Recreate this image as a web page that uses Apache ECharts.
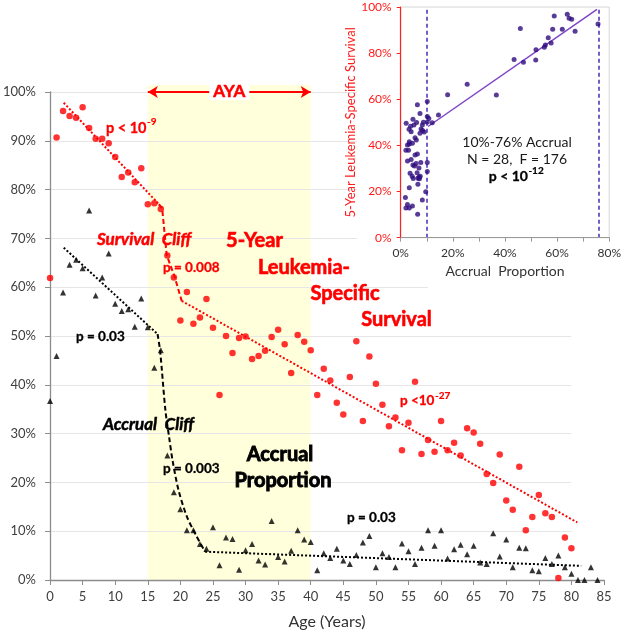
<!DOCTYPE html>
<html><head><meta charset="utf-8">
<script src="https://cdn.jsdelivr.net/npm/echarts@6/dist/echarts.min.js"></script>
<style>html,body{margin:0;padding:0;background:#fff}#c{width:624px;height:635px}</style>
</head><body><div id="c"></div>
<script>
// ---------------- DATA ----------------
const SURV_AGES = [0,1,2,3,4,5,6,7,8,9,10,11,12,13,14,15,16,17,18,19,20,21,22,23,24,25,26,27,28,29,30,31,32,33,34,35,36,37,38,39,40,41,42,43,44,45,46,47,48,49,50,51,52,53,54,55,56,57,58,59,60,61,62,63,64,65,66,67,68,69,70,71,72,73,74,75,76,77,78,79,80];
const SURVIVAL = [61.9,90.7,96.1,95.1,94.7,96.9,92.6,90.4,90.4,89.5,
  86.7,82.6,83.5,81.5,84.4,77.0,77.2,76.0,66.5,62.0,
  53.2,59.0,52.5,53.8,57.6,51.7,37.9,50.0,46.5,49.6,
  49.9,45.3,45.9,47.0,49.8,51.3,48.3,42.4,50.2,48.8,
  47.1,37.9,43.3,40.9,36.3,33.9,41.6,48.9,32.6,45.8,
  40.2,35.9,31.5,33.3,26.6,32.2,40.6,25.8,28.7,26.3,
  32.6,26.6,28.1,25.5,31.1,30.2,27.9,21.7,19.9,25.7,
  16.3,14.4,23.2,10.2,12.9,17.4,13.7,12.9,0.4,8.7,
  6.5];
const ACC_AGES = [0,1,2,3,4,5,6,7,8,9,10,11,12,13,14,15,16,17,18,19,20,21,22,23,24,25,26,27,28,29,30,31,32,33,34,35,36,37,38,39,40,41,42,43,44,45,46,47,48,49,50,51,52,53,54,55,56,57,58,59,60,61,62,63,64,65,66,67,68,69,70,71,72,73,74,75,76,77,78,79,80,81,82,83,84];
const ACCRUAL = [36.7,45.9,58.9,64.6,65.6,63.9,75.7,58.3,62.0,66.9,
  56.6,55.1,55.5,51.9,57.7,51.8,43.5,47.1,25.5,18.0,
  14.5,10.2,10.2,7.4,6.4,10.8,3.0,8.7,8.4,2.1,
  6.1,7.4,4.0,3.2,12.1,4.7,3.8,6.0,10.2,8.3,
  7.8,2.0,5.5,4.5,6.4,4.0,3.3,5.1,7.7,9.0,
  2.6,5.5,4.7,2.6,7.5,5.9,3.3,6.6,10.2,7.0,
  10.2,4.4,6.3,7.2,5.3,7.0,3.6,3.3,9.6,4.8,
  8.3,2.6,6.6,6.5,2.0,1.8,4.5,3.3,5.0,2.6,
  1.3,0,0,2.6,0];
// fitted trend segments [age, %]
const SURV_TREND_CHILD = [[2.1,97.8],[16.7,77.0]];
const SURV_TREND_CLIFF = [[16.7,77.0],[17.2,76.2],[17.9,66.6],[19.1,62.2],[20.2,57.2]];
const SURV_TREND_ADULT = [[20.2,57.2],[80.9,11.8]];
const ACC_TREND_CHILD = [[2.1,68.1],[16.5,50.4]];
const ACC_TREND_CLIFF = [[16.5,50.4],[16.9,46.8],[17.7,34.8],[18.3,29.0],[18.8,24.5],[19.7,18.5],[21.0,13.0],[22.5,8.9],[23.8,5.8]];
const ACC_TREND_ADULT = [[23.8,5.8],[81.5,2.9]];
const AYA_RANGE = [15, 40];
// inset: survival vs accrual, ages 0-77
const INSET_AGES = [0,1,2,3,4,5,6,7,8,9,10,11,12,13,14,15,16,17,18,19,20,21,22,23,24,25,26,27,28,29,30,31,32,33,34,35,36,37,38,39,40,41,42,43,44,45,46,47,48,49,50,51,52,53,54,55,56,57,58,59,60,61,62,63,64,65,66,67,68,69,70,71,72,73,74,75,76,77];
const INSET_TREND = [[10.5,48.2],[75.3,99.0]];
const INSET_CUTS = [10, 76];
const INSET_SHADE = [[[5.5,2],[15,99]],[[15,10.5],[21.7,86.5]]];

// ---------------- CHART ----------------
const F = 'Lato, "Open Sans", sans-serif';
const RED = '#ff0000';
const chart = echarts.init(document.getElementById('c'), null, {renderer:'canvas'});
const insetPts = INSET_AGES.map(a => [ACCRUAL[ACC_AGES.indexOf(a)], SURVIVAL[SURV_AGES.indexOf(a)]]);
const MAIN_W = 556.5;

chart.setOption({
  animation: false,
  backgroundColor: '#fff',
  grid: [
    {left:47.5, top:92, width:MAIN_W, height:488, z:3},
    {left:47.5, top:92, width:MAIN_W*80/85, height:488, z:1},
    {left:400.7, top:7, width:209.3, height:230.7, show:true, borderColor:'#d6d6d6', borderWidth:1, backgroundColor:'transparent', z:4}
  ],
  xAxis: [
    {gridIndex:0, type:'value', min:0, max:85, interval:5, z:3,
     axisLine:{lineStyle:{color:'#8c8c8c', width:1.3}},
     axisTick:{length:5, lineStyle:{color:'#8c8c8c'}},
     axisLabel:{color:'#404040', fontSize:13, fontFamily:F, margin:10},
     splitLine:{show:false},
     name:'Age (Years)', nameLocation:'middle', nameGap:34,
     nameTextStyle:{fontSize:16, color:'#333', fontFamily:F}},
    {gridIndex:1, type:'value', min:0, max:80, show:false},
    {gridIndex:2, type:'value', min:0, max:80, interval:10, z:5,
     axisLine:{lineStyle:{color:'#999', width:1}},
     axisTick:{length:4, lineStyle:{color:'#999'}},
     axisLabel:{color:'#333', fontSize:12, fontFamily:F, margin:9, formatter: v => (v % 20 === 0 ? v + '%' : '')},
     splitLine:{show:false},
     name:'Accrual  Proportion', nameLocation:'middle', nameGap:27,
     nameTextStyle:{fontSize:14, color:'#333', fontFamily:F}}
  ],
  yAxis: [
    {gridIndex:0, type:'value', min:0, max:100, interval:10, z:3,
     axisLine:{show:true, lineStyle:{color:'#8c8c8c', width:1.3}},
     axisTick:{show:true, length:5, lineStyle:{color:'#8c8c8c'}},
     axisLabel:{color:'#404040', fontSize:13, fontFamily:F, margin:14, formatter:'{value}%'},
     splitLine:{show:false}},
    {gridIndex:1, type:'value', min:0, max:100, interval:10, z:1,
     axisLine:{show:false}, axisTick:{show:false}, axisLabel:{show:false},
     splitLine:{show:true, lineStyle:{color:'#e6e6e6', width:1}}},
    {gridIndex:2, type:'value', min:0, max:100, interval:20, z:5,
     axisLine:{show:true, lineStyle:{color:'#ff2020', width:1.2}},
     axisTick:{show:true, length:4, lineStyle:{color:'#ff2020'}},
     axisLabel:{color:'#ff1a1a', fontSize:12, fontFamily:F, margin:9, formatter:'{value}%'},
     splitLine:{show:false},
     name:'5-Year Leukemia-Specific Survival', nameLocation:'middle', nameGap:40,
     nameTextStyle:{fontSize:13, color:'#ff1a1a', fontFamily:F}}
  ],
  series: [
    {type:'scatter', xAxisIndex:0, yAxisIndex:0, z:3, symbol:'circle', symbolSize:6.5,
     itemStyle:{color:RED}, data: SURV_AGES.map((a,i)=>[a, SURVIVAL[i]]),
     markLine:{silent:true, symbol:['arrow','arrow'], symbolSize:[9,10], animation:false,
       lineStyle:{color:RED, width:2, type:'solid'}, label:{show:false},
       data:[[{coord:[AYA_RANGE[0],100]},{coord:[AYA_RANGE[1],100]}]]}},
    {type:'scatter', xAxisIndex:0, yAxisIndex:0, z:3, symbol:'triangle', symbolSize:6,
     itemStyle:{color:'#000'}, data: ACC_AGES.map((a,i)=>[a, ACCRUAL[i]])},
    {type:'line', xAxisIndex:0, yAxisIndex:0, z:3, symbol:'none', data:SURV_TREND_CHILD,
     lineStyle:{color:RED, width:2, type:[2,2]}},
    {type:'line', xAxisIndex:0, yAxisIndex:0, z:3, symbol:'none', data:SURV_TREND_CLIFF,
     lineStyle:{color:RED, width:2, type:[5,3]}},
    {type:'line', xAxisIndex:0, yAxisIndex:0, z:3, symbol:'none', data:SURV_TREND_ADULT,
     lineStyle:{color:RED, width:2, type:[2,2]}},
    {type:'line', xAxisIndex:0, yAxisIndex:0, z:3, symbol:'none', data:ACC_TREND_CHILD,
     lineStyle:{color:'#000', width:2, type:[2,2]}},
    {type:'line', xAxisIndex:0, yAxisIndex:0, z:3, symbol:'none', smooth:0.3, data:ACC_TREND_CLIFF,
     lineStyle:{color:'#000', width:2, type:[5,3]}},
    {type:'line', xAxisIndex:0, yAxisIndex:0, z:3, symbol:'none', data:ACC_TREND_ADULT,
     lineStyle:{color:'#000', width:2, type:[2,2]}},
    // inset
    {type:'scatter', xAxisIndex:2, yAxisIndex:2, z:4, data:[], silent:true,
     markArea:{silent:true, itemStyle:{color:'#f4f4f4'},
       data: INSET_SHADE.map(r => [{coord:r[0]},{coord:r[1]}])}},
    {type:'scatter', xAxisIndex:2, yAxisIndex:2, z:6, symbol:'circle', symbolSize:5,
     itemStyle:{color:'#2e0b7e'}, data: insetPts,
     markLine:{silent:true, symbol:'none', animation:false,
       lineStyle:{color:'#4a2ab8', width:1.5, type:[4,3]}, label:{show:false},
       data: INSET_CUTS.map(v => ({xAxis:v}))}},
    {type:'line', xAxisIndex:2, yAxisIndex:2, z:6, symbol:'none', data:INSET_TREND,
     lineStyle:{color:'#7f44c8', width:1.5}}
  ]
});

// ---------------- ANNOTATIONS ----------------
const mctx = document.createElement('canvas').getContext('2d');
function measure(t, font){ mctx.font = font; return mctx.measureText(t).width; }
function txt(x, y, text, font, fill, align, heavy){
  const st = {text:text, font:font, fill:fill, textAlign:align||'left', align:align||'left',
           textVerticalAlign:'middle', verticalAlign:'middle'};
  if (heavy) { st.stroke = fill; st.lineWidth = heavy; }
  return {type:'text', x:x, y:y, z:10, silent:true, style:st};
}
function font(w, s){ return w + ' ' + s + 'px ' + F; }
function sup(x, y, base, sp, size, spSize, fill, weight, centered){
  const f1 = font(weight, size), f2 = font(weight, spSize);
  const w1 = measure(base, f1), w2 = measure(sp, f2);
  const x0 = centered ? x - (w1 + w2) / 2 : x;
  return [txt(x0, y, base, f1, fill, 'left', 0.3), txt(x0 + w1 + 0.5, y - size * 0.4, sp, f2, fill, 'left', 0.2)];
}
const pA = chart.convertToPixel({gridIndex:0}, [AYA_RANGE[0], 100]);
const pB = chart.convertToPixel({gridIndex:0}, [AYA_RANGE[1], 0]);
const ayaText = txt((pA[0]+pB[0])/2, pA[1]-0.5, 'AYA', font('bold',17), RED, 'center', 0.5);
ayaText.style.backgroundColor = '#fff';
ayaText.style.padding = [0, 4];
const els = [
  {type:'rect', z:0, silent:true, shape:{x:pA[0], y:pA[1]-7, width:pB[0]-pA[0], height:pB[1]-pA[1]+7}, style:{fill:'#ffffdc'}},
  {type:'rect', z:2, silent:true, shape:{x:357, y:0, width:267, height:283}, style:{fill:'#fff'}},
  {type:'rect', z:2, silent:true, shape:{x:428, y:283, width:196, height:8}, style:{fill:'#fff'}},
  ayaText,
  ...sup(106, 128, 'p < 10', '-9', 14.5, 10, RED, 'bold'),
  txt(97, 240, 'Survival  Cliff', font('italic bold',17), RED, 'left', 0.5),
  txt(163, 268, 'p = 0.008', font('bold',13.5), RED, 'left', 0.3),
  txt(254.5, 241, '5-Year', font('bold',20), RED, 'center', 0.6),
  txt(304, 268, 'Leukemia-', font('bold',20), RED, 'center', 0.6),
  txt(345, 294, 'Specific', font('bold',20), RED, 'center', 0.6),
  txt(396.5, 320, 'Survival', font('bold',20), RED, 'center', 0.6),
  ...sup(400, 401, 'p <10', '-27', 13.5, 10, RED, 'bold'),
  txt(76, 337, 'p = 0.03', font('bold',13.5), '#000', 'left', 0.3),
  txt(103, 425, 'Accrual  Cliff', font('italic bold',17), '#000', 'left', 0.5),
  txt(163, 469, 'p = 0.003', font('bold',13.5), '#000', 'left', 0.3),
  txt(280, 455, 'Accrual', font('bold',20), '#000', 'center', 0.9),
  txt(283, 481, 'Proportion', font('bold',20), '#000', 'center', 0.9),
  txt(347, 518, 'p = 0.03', font('bold',13.5), '#000', 'left', 0.3),
  txt(517, 142, '10%-76% Accrual', font('normal',14), '#1a1a1a', 'center'),
  txt(517, 159, 'N = 28,  F = 176', font('normal',14), '#1a1a1a', 'center'),
  ...sup(516, 176, 'p < 10', '-12', 14, 10, '#000', 'bold', true)
];
chart.setOption({graphic:{elements: els}});
</script></body></html>
